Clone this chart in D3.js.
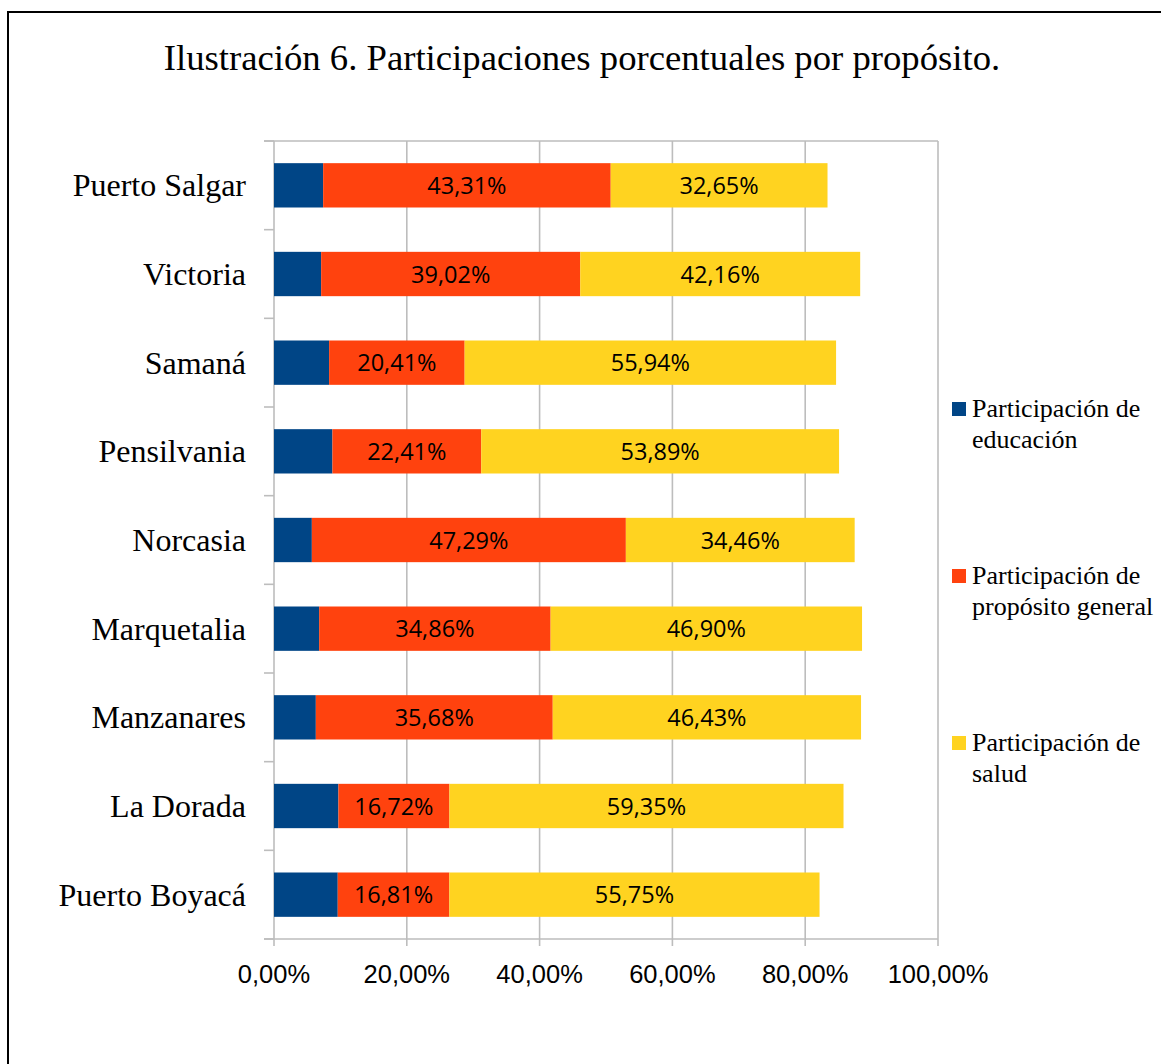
<!DOCTYPE html>
<html><head><meta charset="utf-8">
<script src="https://cdn.jsdelivr.net/npm/d3@7"></script>
<style>body{margin:0;background:#fff}svg{display:block}</style>
</head><body>
<script>
const categories = ["Puerto Salgar","Victoria","Samaná","Pensilvania","Norcasia","Marquetalia","Manzanares","La Dorada","Puerto Boyacá"];
const educacion = [7.4, 7.1, 8.3, 8.8, 5.7, 6.8, 6.3, 9.7, 9.6];
const propositoGeneral = [43.31, 39.02, 20.41, 22.41, 47.29, 34.86, 35.68, 16.72, 16.81];
const salud = [32.65, 42.16, 55.94, 53.89, 34.46, 46.90, 46.43, 59.35, 55.75];
const seriesNames = [["Participación de","educación"],["Participación de","propósito general"],["Participación de","salud"]];
const xTicks = [0,20,40,60,80,100];
const colors = ["#004586","#ff420e","#ffd320"];

(function(){
const W = 1161, H = 1064;
const svg = d3.select("body").append("svg").attr("width", W).attr("height", H);

svg.append("rect").attr("x", 8).attr("y", 12).attr("width", 1200).attr("height", 1100)
  .attr("fill", "none").attr("stroke", "#000").attr("stroke-width", 2);

svg.append("text").attr("x", 582).attr("y", 70).attr("text-anchor", "middle")
  .attr("font-family", "Liberation Serif, Times New Roman, serif").attr("font-size", 36.7)
  .text("Ilustración 6. Participaciones porcentuales por propósito.");

const pL = 274, pR = 938, pT = 141, pB = 939;
const x = d3.scaleLinear().domain([0,100]).range([pL, pR]);
const y = d3.scaleBand().domain(categories).range([pT, pB]).paddingInner(0.5).paddingOuter(0.25);

const grid = "#bdbdbd";
svg.append("g").selectAll("line").data(xTicks).join("line")
  .attr("x1", d => x(d)).attr("x2", d => x(d)).attr("y1", pT).attr("y2", pB + 7)
  .attr("stroke", grid).attr("stroke-width", 1.6);
const bounds = d3.range(categories.length + 1).map(i => pT + i * (pB - pT) / categories.length);
svg.append("g").selectAll("line").data(bounds).join("line")
  .attr("x1", pL - 10).attr("x2", pL).attr("y1", d => d).attr("y2", d => d)
  .attr("stroke", grid).attr("stroke-width", 1.6);
[pT, pB].forEach(v => svg.append("line").attr("x1", pL - 10).attr("x2", pR)
  .attr("y1", v).attr("y2", v).attr("stroke", grid).attr("stroke-width", 1.6));

const data = categories.map((c, i) => ({cat: c, a: educacion[i], b: propositoGeneral[i], c: salud[i]}));
const stack = d3.stack().keys(["a","b","c"])(data);
const g = svg.append("g");
stack.forEach((s, si) => {
  g.selectAll(null).data(s).join("rect")
    .attr("x", d => x(d[0])).attr("width", d => x(d[1]) - x(d[0]))
    .attr("y", d => y(d.data.cat)).attr("height", y.bandwidth())
    .attr("fill", colors[si]);
});
stack.forEach((s, si) => {
  if (si > 0) {
    g.selectAll(null).data(s).join("text")
      .attr("x", d => (x(d[0]) + x(d[1])) / 2).attr("y", d => y(d.data.cat) + y.bandwidth()/2 + 8.5)
      .attr("text-anchor", "middle").attr("font-family", "Open Sans, sans-serif").attr("font-size", 23.5)
      .attr("fill", "#000")
      .text(d => (d[1] - d[0]).toFixed(2).replace(".", ",") + "%");
  }
});

svg.append("g").selectAll("text").data(categories).join("text")
  .attr("x", 246).attr("y", d => y(d) + y.bandwidth()/2 + 11)
  .attr("text-anchor", "end").attr("font-family", "Liberation Serif, Times New Roman, serif")
  .attr("font-size", 32).text(d => d);

svg.append("g").selectAll("text").data(xTicks).join("text")
  .attr("x", d => x(d)).attr("y", 983).attr("text-anchor", "middle")
  .attr("font-family", "Liberation Sans, Arial, sans-serif").attr("font-size", 25.5)
  .text(d => d.toFixed(2).replace(".", ",") + "%");

const legY = [402, 569, 736];
seriesNames.forEach((n, i) => {
  svg.append("rect").attr("x", 952).attr("y", legY[i]).attr("width", 14).attr("height", 14).attr("fill", colors[i]);
  const t = svg.append("text").attr("font-family", "Liberation Serif, Times New Roman, serif").attr("font-size", 26);
  n.forEach((line, j) => t.append("tspan").attr("x", 972).attr("y", legY[i] + 15 + j * 31).text(line));
});
})();
</script>
</body></html>
